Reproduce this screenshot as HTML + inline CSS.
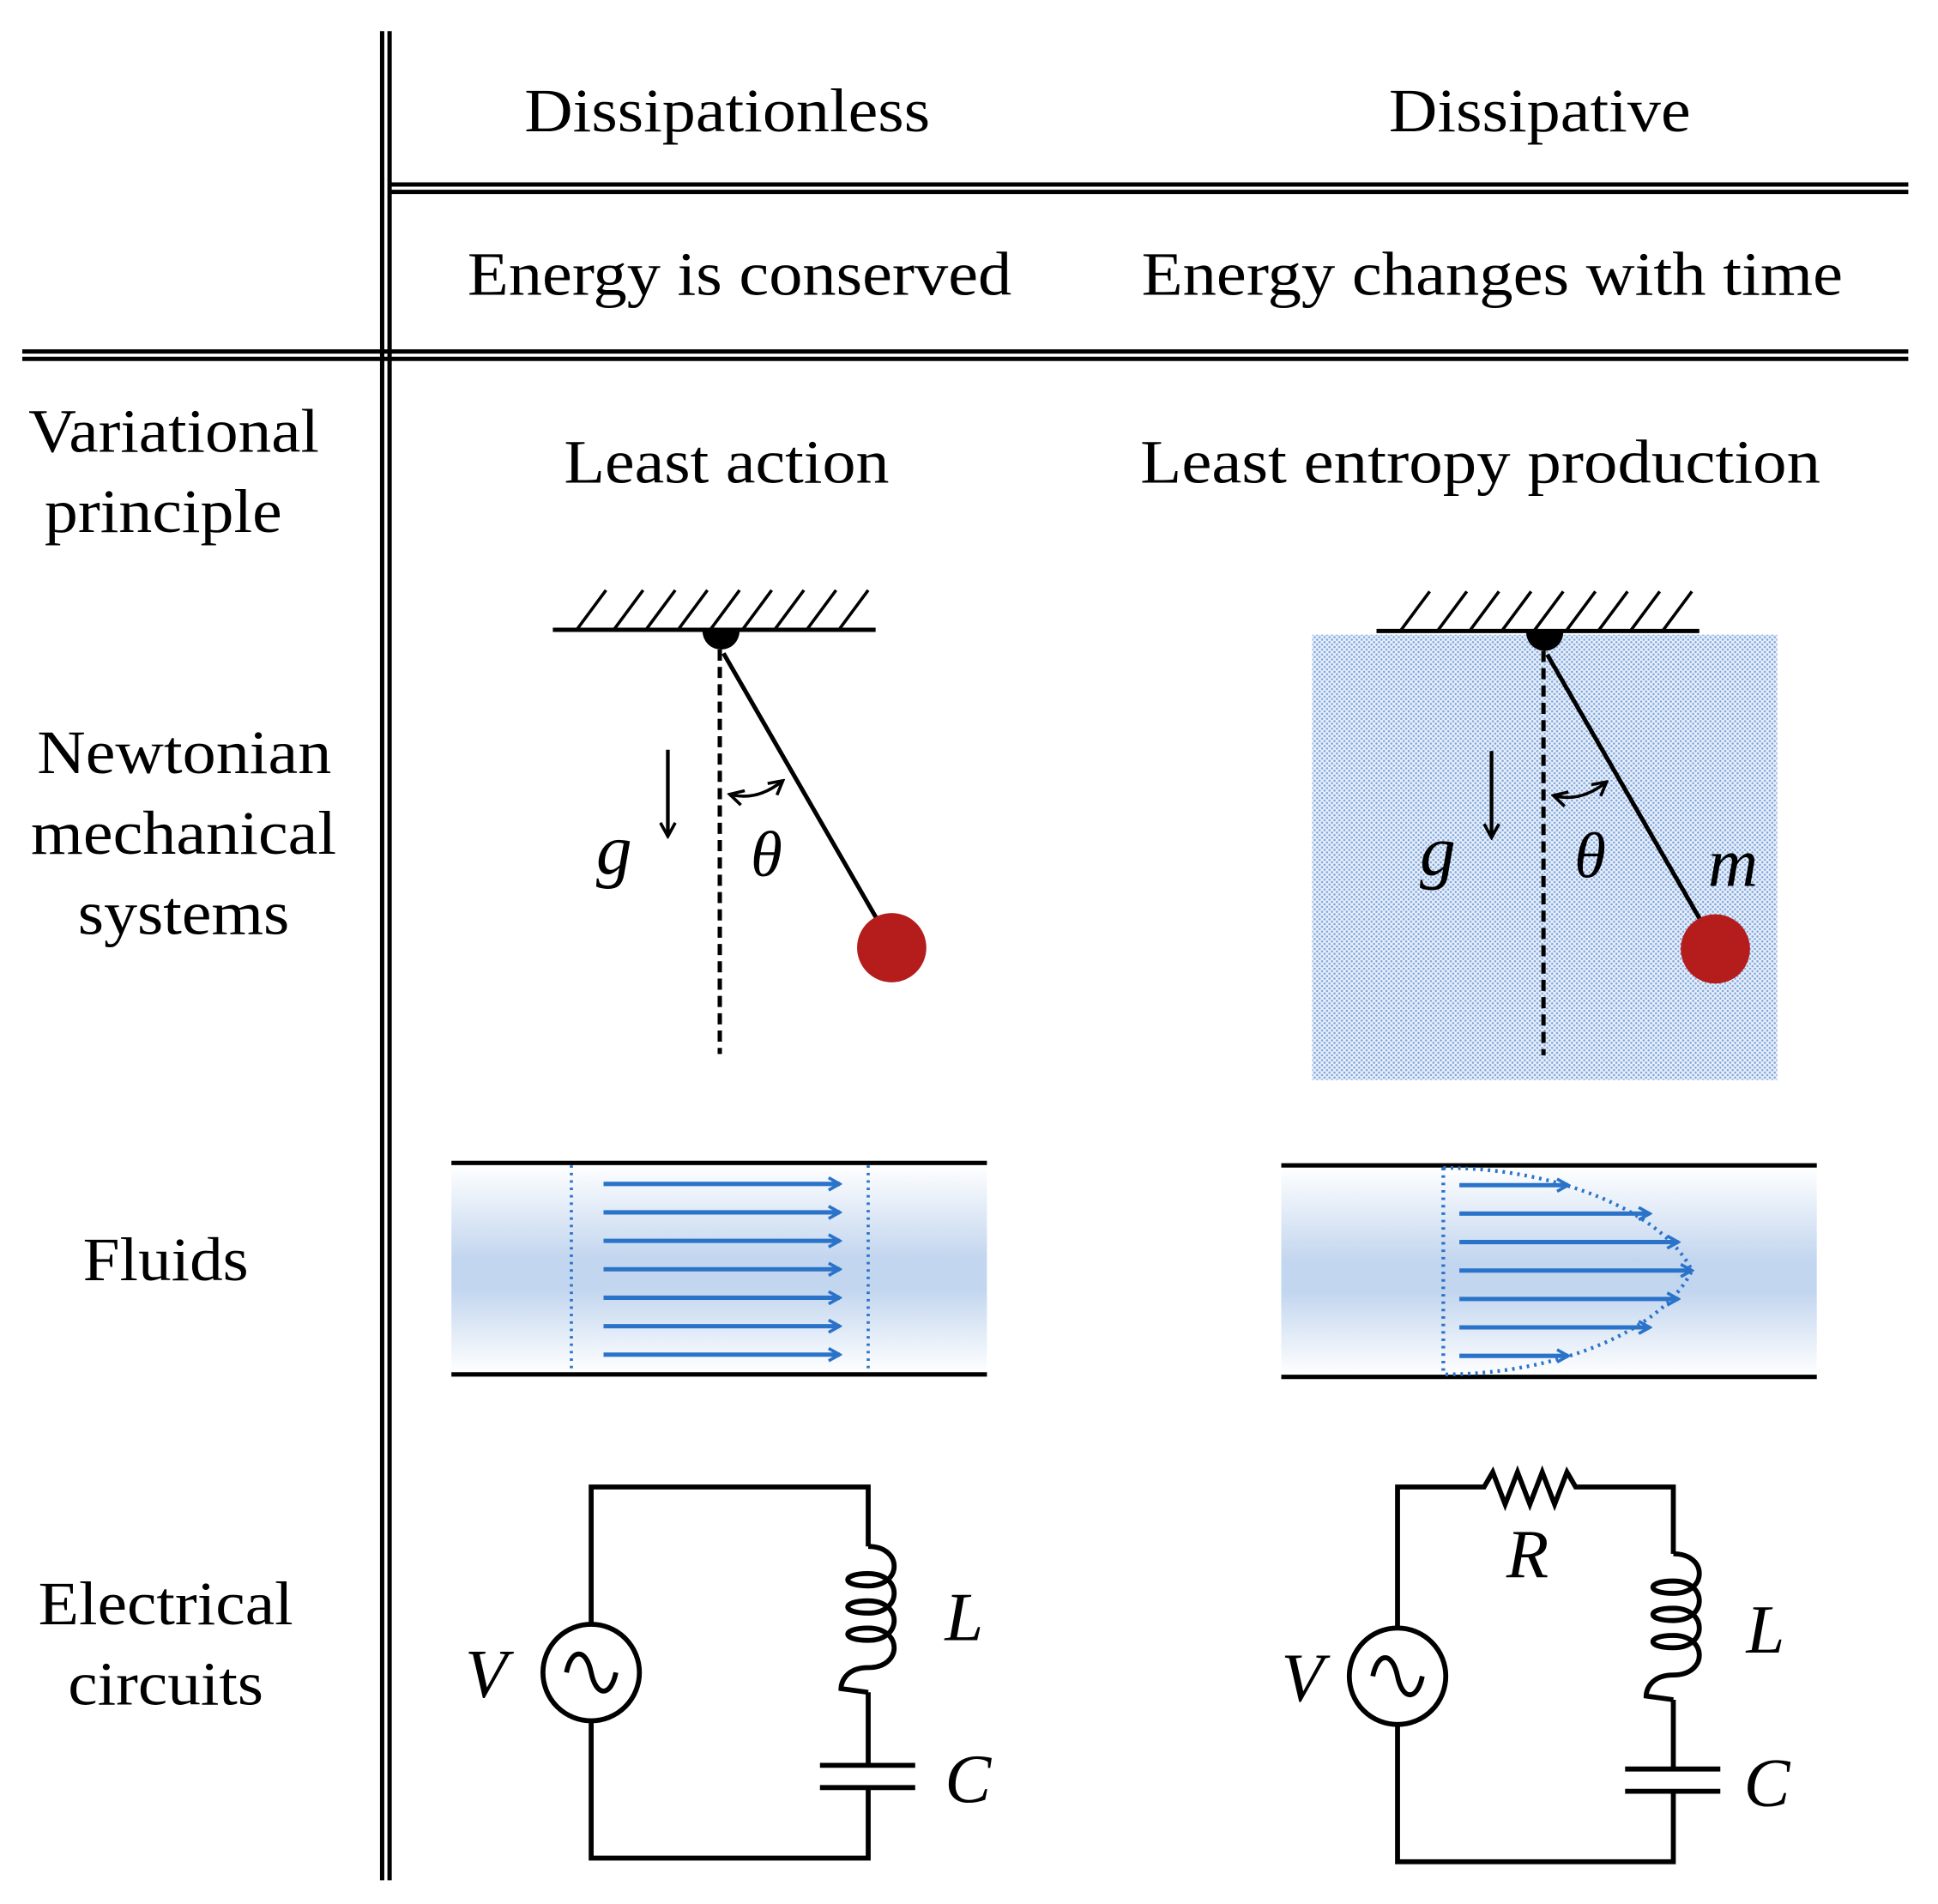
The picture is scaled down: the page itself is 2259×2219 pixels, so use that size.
<!DOCTYPE html>
<html><head><style>html,body{margin:0;padding:0;background:#fff}svg{display:block}</style></head>
<body>
<svg width="2259" height="2219" viewBox="0 0 1567 1539" xmlns="http://www.w3.org/2000/svg">
<defs>
<linearGradient id="fl" x1="0" y1="0" x2="0" y2="1">
<stop offset="0" stop-color="#ffffff"/><stop offset="0.45" stop-color="#c3d6ef"/><stop offset="0.6" stop-color="#c3d6ef"/><stop offset="1" stop-color="#ffffff"/></linearGradient>
<pattern id="dots" width="4" height="4" patternUnits="userSpaceOnUse"><rect width="4" height="4" fill="#eaf0fa"/><circle cx="1" cy="1" r="0.9" fill="#7ea6dc"/><circle cx="3" cy="3" r="0.9" fill="#7ea6dc"/></pattern>
<marker id="ab" markerWidth="12" markerHeight="12" refX="10" refY="6" orient="auto" markerUnits="userSpaceOnUse"><path d="M1,1 L10,6 L1,11" fill="none" stroke="#2a73c9" stroke-width="2.5"/></marker>
<marker id="ak" markerWidth="14" markerHeight="14" refX="12" refY="7" orient="auto-start-reverse" markerUnits="userSpaceOnUse"><path d="M1,1 L12,7 L1,13" fill="none" stroke="#000" stroke-width="2.5"/></marker>
</defs>
<g stroke="#000" stroke-width="3.5" fill="none">
<line x1="309" y1="25" x2="309" y2="1520"/><line x1="315" y1="25" x2="315" y2="1520"/>
<line x1="315" y1="149" x2="1543" y2="149"/><line x1="315" y1="155" x2="1543" y2="155"/>
<line x1="18" y1="284" x2="1543" y2="284"/><line x1="18" y1="290" x2="1543" y2="290"/>
</g>
<g font-family="Liberation Serif, serif" font-size="50" fill="#000">
<text x="424" y="106" textLength="328" lengthAdjust="spacingAndGlyphs">Dissipationless</text>
<text x="1123" y="106" textLength="244" lengthAdjust="spacingAndGlyphs">Dissipative</text>
<text x="378" y="238" textLength="440" lengthAdjust="spacingAndGlyphs">Energy is conserved</text>
<text x="923" y="238" textLength="567" lengthAdjust="spacingAndGlyphs">Energy changes with time</text>
<text x="456" y="390" textLength="263" lengthAdjust="spacingAndGlyphs">Least action</text>
<text x="922" y="390" textLength="550" lengthAdjust="spacingAndGlyphs">Least entropy production</text>
<text x="23" y="365" textLength="235" lengthAdjust="spacingAndGlyphs">Variational</text>
<text x="36" y="430" textLength="192" lengthAdjust="spacingAndGlyphs">principle</text>
<text x="30" y="625" textLength="238" lengthAdjust="spacingAndGlyphs">Newtonian</text>
<text x="25" y="690" textLength="247" lengthAdjust="spacingAndGlyphs">mechanical</text>
<text x="63" y="755" textLength="171" lengthAdjust="spacingAndGlyphs">systems</text>
<text x="67" y="1035" textLength="134" lengthAdjust="spacingAndGlyphs">Fluids</text>
<text x="31" y="1313" textLength="206" lengthAdjust="spacingAndGlyphs">Electrical</text>
<text x="55" y="1378" textLength="158" lengthAdjust="spacingAndGlyphs">circuits</text>
</g>
<rect x="1061" y="513" width="376" height="360" fill="url(#dots)"/>
<g id="pend">
<g stroke="#000" stroke-width="3.5" fill="none">
<line x1="447" y1="509" x2="708" y2="509"/>
<path d="M467,508l23,-31M497,508l23,-31M523,508l23,-31M549,508l23,-31M575,508l23,-31M601,508l23,-31M627,508l23,-31M653,508l23,-31M679,508l23,-31" stroke-width="2.5"/>
<line x1="582" y1="525" x2="582" y2="852" stroke-dasharray="9,5"/>
<line x1="585" y1="528" x2="712" y2="748"/>
<line x1="540" y1="606" x2="540" y2="676" marker-end="url(#ak)" stroke-width="3"/>
<path d="M590,642 Q612,648 633,631" marker-end="url(#ak)" marker-start="url(#ak)" stroke-width="2.5"/>
</g>
<path d="M568,510 A15,15 0 0 0 598,510 Z" fill="#000"/>
<circle cx="721" cy="766" r="28" fill="#b51c1c"/>
<text x="482" y="706" font-family="Liberation Serif, serif" font-style="italic" font-size="58">g</text>
<text x="607" y="708" font-family="Liberation Serif, serif" font-style="italic" font-size="52">θ</text>
</g>
<use href="#pend" transform="translate(666,1)"/>
<text x="1381" y="716" font-family="Liberation Serif, serif" font-style="italic" font-size="56">m</text>
<rect x="365" y="941" width="433" height="169" fill="url(#fl)"/>
<g stroke="#000" stroke-width="3.5"><line x1="365" y1="940" x2="798" y2="940"/><line x1="365" y1="1111" x2="798" y2="1111"/></g>
<g stroke="#2a73c9" stroke-width="2.5" stroke-dasharray="2,4"><line x1="462" y1="942" x2="462" y2="1110"/><line x1="702" y1="942" x2="702" y2="1110"/></g>
<g stroke="#2a73c9" stroke-width="3.5" marker-end="url(#ab)">
<line x1="488" y1="957" x2="679" y2="957"/><line x1="488" y1="980" x2="679" y2="980"/><line x1="488" y1="1003" x2="679" y2="1003"/><line x1="488" y1="1026" x2="679" y2="1026"/><line x1="488" y1="1049" x2="679" y2="1049"/><line x1="488" y1="1072" x2="679" y2="1072"/><line x1="488" y1="1095" x2="679" y2="1095"/>
</g>
<rect x="1036" y="943" width="433" height="169" fill="url(#fl)"/>
<g stroke="#000" stroke-width="3.5"><line x1="1036" y1="942" x2="1469" y2="942"/><line x1="1036" y1="1113" x2="1469" y2="1113"/></g>
<g stroke="#2a73c9" stroke-width="3" stroke-dasharray="2,4" fill="none"><line x1="1167" y1="944" x2="1167" y2="1111"/><path d="M1167,944 C1260,944 1345,980 1368,1027 C1345,1075 1260,1111 1167,1111"/></g>
<g stroke="#2a73c9" stroke-width="3.5" marker-end="url(#ab)">
<line x1="1180" y1="958" x2="1268" y2="958"/><line x1="1180" y1="981" x2="1334" y2="981"/><line x1="1180" y1="1004" x2="1357" y2="1004"/><line x1="1180" y1="1027" x2="1368" y2="1027"/><line x1="1180" y1="1050" x2="1357" y2="1050"/><line x1="1180" y1="1073" x2="1334" y2="1073"/><line x1="1180" y1="1096" x2="1268" y2="1096"/>
</g>
<g stroke="#000" stroke-width="4" fill="none">
<path d="M478,1313 V1202 H702 V1250"/>
<path d="M702,1250 C730,1250 730,1282 702,1282 C680,1282 680,1272 702,1272 C730,1272 730,1304 702,1304 C680,1304 680,1294 702,1294 C730,1294 730,1326 702,1326 C680,1326 680,1316 702,1316 C730,1316 730,1348 702,1348 C684,1348 680,1360 680,1365 L702,1368"/>
<path d="M702,1368 V1427 M663,1427 H740 M663,1445 H740 M702,1445 V1502 H478 V1391"/>
<circle cx="478" cy="1352" r="39"/>
<path d="M458,1352 C462,1332 474,1332 478,1352 C482,1372 494,1372 498,1352"/>
</g>
<g font-family="Liberation Serif, serif" font-style="italic" font-size="56" fill="#000">
<text x="376" y="1372">V</text><text x="764" y="1326">L</text><text x="764" y="1457">C</text>
<text x="1036" y="1375">V</text><text x="1412" y="1336">L</text><text x="1410" y="1460">C</text><text x="1218" y="1275">R</text>
</g>
<g stroke="#000" stroke-width="4" fill="none">
<path d="M1130,1316 V1202 H1200 L1207,1190 L1217,1216 L1227,1190 L1237,1216 L1247,1190 L1257,1216 L1267,1190 L1274,1202 H1353 V1256"/>
<path d="M1353,1256 C1381,1256 1381,1288 1353,1288 C1331,1288 1331,1278 1353,1278 C1381,1278 1381,1310 1353,1310 C1331,1310 1331,1300 1353,1300 C1381,1300 1381,1332 1353,1332 C1331,1332 1331,1322 1353,1322 C1381,1322 1381,1354 1353,1354 C1335,1354 1331,1366 1331,1371 L1353,1374"/>
<path d="M1353,1374 V1430 M1314,1430 H1391 M1314,1448 H1391 M1353,1448 V1505 H1130 V1394"/>
<circle cx="1130" cy="1355" r="39"/>
<path d="M1110,1355 C1114,1335 1126,1335 1130,1355 C1134,1375 1146,1375 1150,1355"/>
</g>
</svg>
</body></html>
